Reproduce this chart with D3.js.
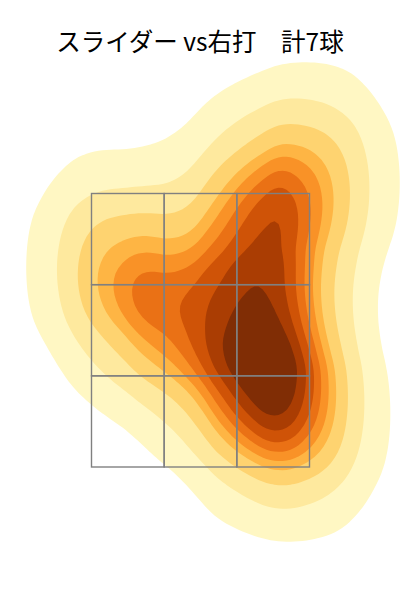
<!DOCTYPE html>
<html>
<head>
<meta charset="utf-8">
<script src="https://cdn.jsdelivr.net/npm/d3@7"></script>
<style>
  html, body { margin: 0; padding: 0; background: #fff; }
</style>
</head>
<body>
<svg id="chart" width="400" height="600"></svg>
<script>
// ---- data ----
const title = "スライダー vs右打　計7球";
// pitch locations, catcher's view (plate_x in ft, plate_z in ft)
const pitchX = [0.534, 0.778, 0.396, 0.350, 0.855, -0.665, -0.198];
const pitchZ = [2.615, 1.863, 2.022, 3.334, 3.581, 2.960, 2.528];
// strike zone
const zoneX = [-0.83, 0.83];
const zoneZ = [1.5, 3.5];
// contour levels as share of the peak density
const levelShares = [0.076, 0.216, 0.363, 0.484, 0.560, 0.636, 0.708, 0.786, 0.866];

// ---- layout ----
const W = 400, H = 600;
const svg = d3.select("#chart");
const x = d3.scaleLinear().domain(zoneX).range([91.5, 309.5]);
const y = d3.scaleLinear().domain(zoneZ).range([467, 193.5]);
const aspect = 1.351;       // vertical stretch of the kernel
const bandwidth = 43;

const pitches = pitchX.map((v, i) => ({ x: v, z: pitchZ[i] }));

const density = d3.contourDensity()
  .x(d => x(d.x))
  .y(d => y(d.z) / aspect)
  .size([W, H / aspect])
  .bandwidth(bandwidth);

let contours;
if (typeof density.contours === "function") {
  const gen = density.contours(pitches);
  const mx = gen.max;
  contours = levelShares.map(s => gen(s * mx));
} else {
  const c1 = density.thresholds(60)(pitches);
  const step = c1.length > 1 ? c1[1].value - c1[0].value : c1[0].value;
  const lo = c1[c1.length - 1].value;
  const fine = d3.range(1, 201).map(i => lo + step * i / 100);
  const c2 = density.thresholds(fine)(pitches).filter(c => c.coordinates.length);
  const mx = c2.length ? c2[c2.length - 1].value : lo;
  contours = density.thresholds(levelShares.map(s => s * mx))(pitches);
}

const color = i => d3.interpolateYlOrBr((i + 1) / 9.6);

svg.append("g")
  .attr("transform", `scale(1,${aspect})`)
  .selectAll("path")
  .data(contours)
  .join("path")
  .attr("d", d3.geoPath())
  .attr("fill", (d, i) => color(i))
  .attr("stroke", "none");

// strike zone 3x3 grid
const xs = d3.range(4).map(i => zoneX[0] + (zoneX[1] - zoneX[0]) * i / 3);
const zs = d3.range(4).map(i => zoneZ[0] + (zoneZ[1] - zoneZ[0]) * i / 3);
const cells = [];
for (let i = 0; i < 3; i++) for (let j = 0; j < 3; j++) cells.push({ x0: xs[i], x1: xs[i + 1], z0: zs[j], z1: zs[j + 1] });
svg.append("g")
  .selectAll("rect")
  .data(cells)
  .join("rect")
  .attr("x", d => x(d.x0))
  .attr("y", d => y(d.z1))
  .attr("width", d => x(d.x1) - x(d.x0))
  .attr("height", d => y(d.z0) - y(d.z1))
  .attr("fill", "none")
  .attr("stroke", "#808080")
  .attr("stroke-width", 1.4);

svg.append("text")
  .attr("x", W / 2)
  .attr("y", 51)
  .attr("text-anchor", "middle")
  .attr("font-family", "'Noto Sans CJK JP', 'Noto Sans', sans-serif")
  .attr("font-size", 24.5)
  .attr("fill", "#000")
  .text(title);
</script>
</body>
</html>
